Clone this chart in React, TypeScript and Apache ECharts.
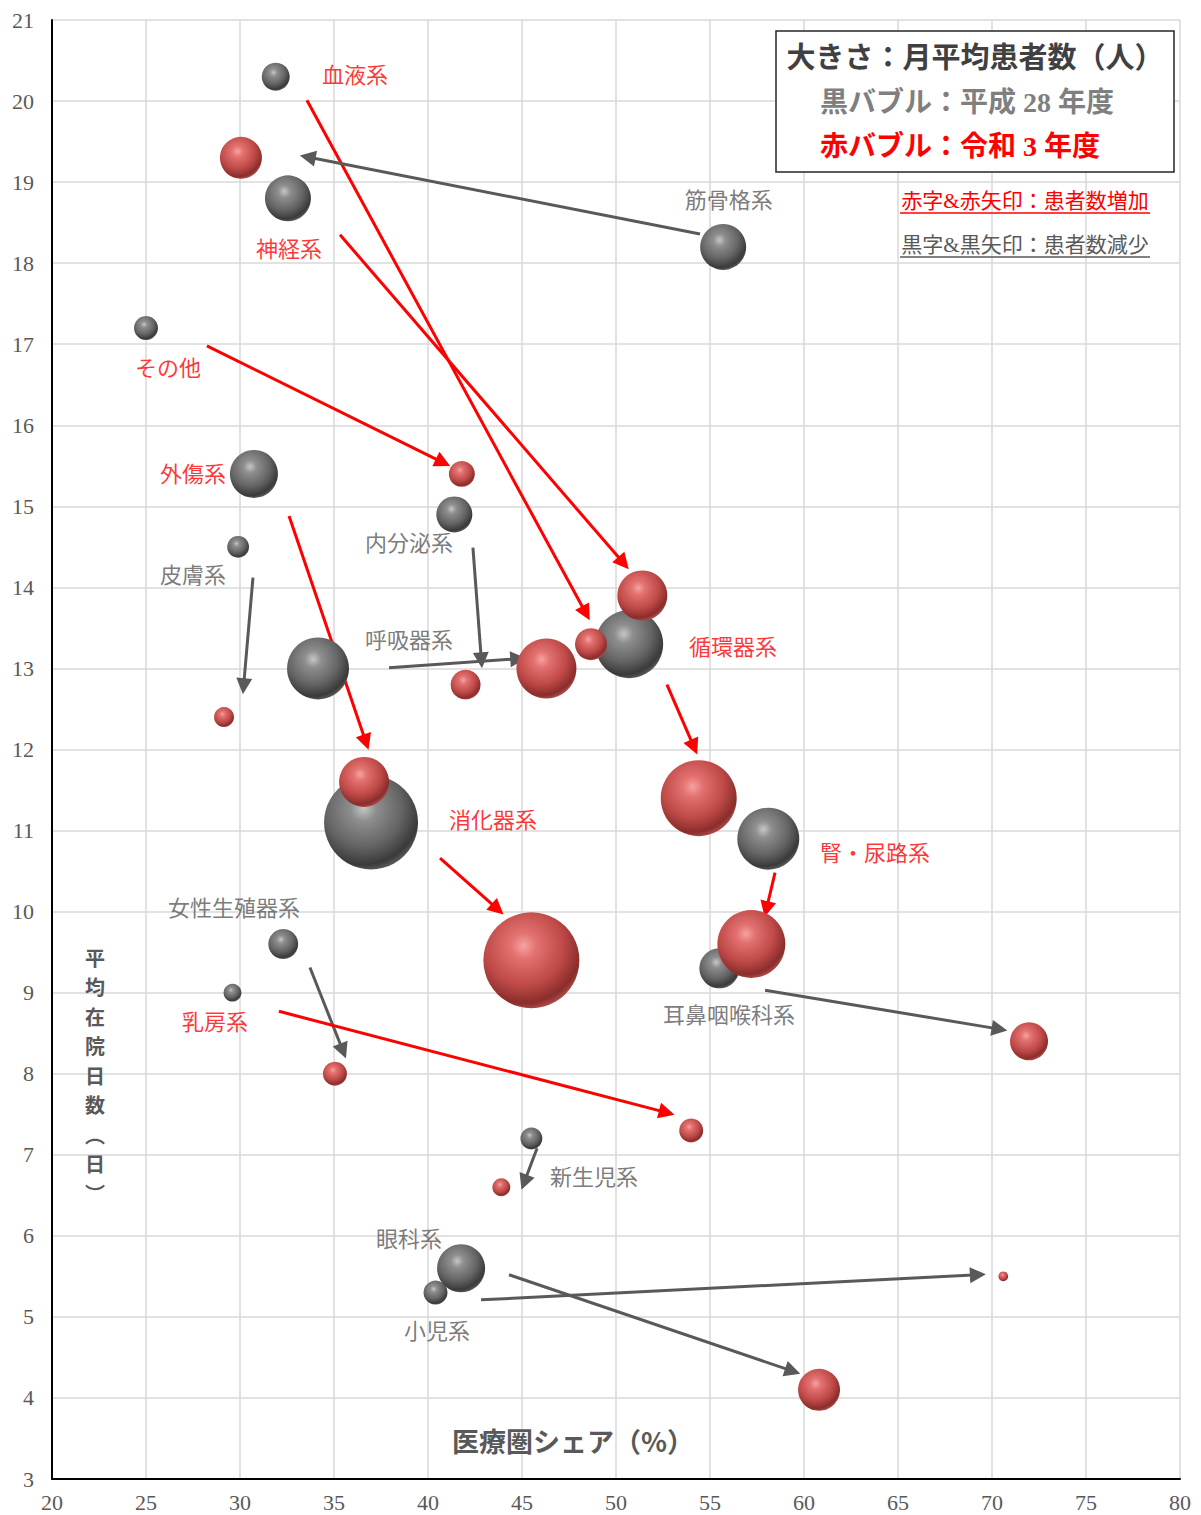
import React, { useEffect, useRef } from "react";
import * as echarts from "echarts";

// ---- data ----
const categories = ["血液系", "神経系", "筋骨格系", "その他", "外傷系", "内分泌系", "皮膚系", "呼吸器系", "循環器系", "消化器系", "腎・尿路系", "女性生殖器系", "乳房系", "耳鼻咽喉科系", "新生児系", "眼科系", "小児系"];
// 平成28年度 (gray bubbles)
const h28Share = [31.9, 32.55, 55.7, 25.0, 30.74, 41.4, 29.9, 34.15, 50.7, 36.97, 58.1, 32.3, 29.6, 55.5, 45.5, 41.76, 40.4];
const h28Days = [20.3, 18.8, 18.2, 17.2, 15.4, 14.9, 14.5, 13.0, 13.3, 11.1, 10.9, 9.6, 9.0, 9.3, 7.2, 5.6, 5.3];
const h28Patients = [49, 132, 132, 36, 144, 81, 30, 240, 289, 552, 240, 56, 20, 100, 30, 144, 36];
// 令和3年度 (red bubbles)
const r3Share = [48.67, 51.4, 30.05, 41.8, 36.6, 42.0, 29.15, 46.3, 54.4, 45.5, 57.2, 35.05, 54.0, 71.97, 43.9, 60.8, 70.6];
const r3Days = [13.3, 13.9, 19.3, 15.4, 11.6, 12.8, 12.4, 13.0, 11.4, 9.4, 9.6, 8.0, 7.3, 8.4, 6.6, 4.1, 5.5];
const r3Patients = [64, 156, 110, 42, 156, 56, 25, 225, 361, 576, 289, 36, 36, 90, 20, 110, 6];
// annotation arrows (data coords)
const arrowFrom = [[33.56, 20.01], [35.32, 18.35], [54.47, 18.36], [28.24, 16.98], [32.61, 14.88], [42.39, 14.49], [30.69, 14.12], [37.93, 13.01], [52.71, 12.8], [40.64, 10.66], [58.46, 10.48], [33.72, 9.31], [32.07, 8.77], [57.93, 9.03], [45.8, 7.08], [44.31, 5.52], [42.82, 5.21]];
const arrowTo = [[48.4, 13.68], [50.4, 14.3], [33.6, 19.31], [40.8, 15.54], [36.7, 12.09], [42.84, 13.1], [30.19, 12.78], [44.8, 13.12], [54.15, 12.03], [43.7, 10.03], [58.0, 10.03], [35.48, 8.28], [52.7, 7.52], [70.4, 8.55], [45.12, 6.66], [59.4, 4.33], [69.25, 5.52]];
// label anchor points (data coords)
const labelPos = [[36.12, 20.35], [32.61, 18.2], [56.0, 18.8], [26.17, 16.73], [27.5, 15.42], [38.99, 14.57], [27.5, 14.18], [38.99, 13.38], [56.22, 13.29], [43.46, 11.16], [63.78, 10.75], [29.68, 10.07], [28.67, 8.66], [56.01, 8.75], [48.83, 6.75], [38.99, 5.99], [40.48, 4.85]];

const xTicks = { min: 20, max: 80, interval: 5 };
const yTicks = { min: 3, max: 21, interval: 1 };
const yTitleChars = ["平", "均", "在", "院", "日", "数", "︵", "日", "︶"];

const RED = "#ff0000";
const GRAY = "#595959";
const FONT = '"Liberation Serif", "Noto Sans CJK JP", serif';
const CJK = '"Noto Sans CJK JP", sans-serif';

const sizeOf = (p: number) => Math.sqrt(p) * 4;

export default function App() {
  const ref = useRef<HTMLDivElement>(null);
  useEffect(() => {
    document.body.style.margin = "0";
    const chart = echarts.init(ref.current!, undefined, { renderer: "svg" });
    const increased = categories.map((_, i) => r3Patients[i] > h28Patients[i]);

    const redGrad = {
      type: "radial", x: 0.42, y: 0.35, r: 0.68,
      colorStops: [
        { offset: 0, color: "#f6a3a2" },
        { offset: 0.2, color: "#e2716f" },
        { offset: 0.6, color: "#bf4a48" },
        { offset: 0.88, color: "#8a2d2b" },
        { offset: 1, color: "#b25250" },
      ],
    };
    const grayGrad = {
      type: "radial", x: 0.42, y: 0.35, r: 0.68,
      colorStops: [
        { offset: 0, color: "#c6c6c6" },
        { offset: 0.2, color: "#8e8e8e" },
        { offset: 0.6, color: "#646464" },
        { offset: 0.88, color: "#3a3a3a" },
        { offset: 1, color: "#606060" },
      ],
    };

    const pitch = 29.5;
    const yTitle = yTitleChars.map((ch, i) => ({
      type: "text", z: 10, x: 95, y: 1075 + (i - 4) * pitch,
      style: { text: ch, fill: GRAY, font: `bold 20px ${CJK}`, align: "center", verticalAlign: "middle" },
    }));

    const option: any = {
      animation: false,
      grid: { left: 52, right: 21, top: 20, bottom: 36, containLabel: false },
      xAxis: {
        type: "value", min: xTicks.min, max: xTicks.max, interval: xTicks.interval,
        axisLine: { show: true, lineStyle: { color: "#000", width: 2 } },
        axisTick: { show: false },
        axisLabel: { color: GRAY, fontFamily: FONT, fontSize: 22, margin: 12 },
        splitLine: { show: true, lineStyle: { color: "#d9d9d9", width: 1.5 } },
      },
      yAxis: {
        type: "value", min: yTicks.min, max: yTicks.max, interval: yTicks.interval,
        axisLine: { show: true, lineStyle: { color: "#000", width: 2 } },
        axisTick: { show: false },
        axisLabel: { color: GRAY, fontFamily: FONT, fontSize: 22, margin: 18 },
        splitLine: { show: true, lineStyle: { color: "#d9d9d9", width: 1.5 } },
      },
      series: [
        {
          type: "lines", coordinateSystem: "cartesian2d", silent: true, z: 3,
          symbol: ["none", "triangle"], symbolSize: [0, 16],
          data: categories.map((c, i) => ({
            name: c,
            coords: [arrowFrom[i], arrowTo[i]],
            lineStyle: { color: increased[i] ? RED : GRAY, width: 3, opacity: 1 },
          })),
        },
        {
          type: "scatter", name: "平成28年度", silent: true, z: 4,
          data: categories.map((c, i) => [h28Share[i], h28Days[i], h28Patients[i], c]),
          symbolSize: (v: any) => sizeOf(v[2]),
          itemStyle: { color: grayGrad, opacity: 1 },
        },
        {
          type: "scatter", name: "令和3年度", silent: true, z: 5,
          data: categories.map((c, i) => [r3Share[i], r3Days[i], r3Patients[i], c]),
          symbolSize: (v: any) => sizeOf(v[2]),
          itemStyle: { color: redGrad, opacity: 1 },
        },
        {
          type: "scatter", name: "labels", silent: true, z: 6,
          symbolSize: 1,
          itemStyle: { color: "rgba(0,0,0,0)" },
          data: categories.map((c, i) => ({
            value: [labelPos[i][0], labelPos[i][1]],
            name: c,
            label: {
              show: true, position: "inside", formatter: c,
              color: increased[i] ? RED : GRAY,
              fontFamily: CJK, fontSize: 22,
            },
          })),
        },
      ],
      graphic: [
        {
          type: "text", left: 452, top: 1427, z: 10,
          style: { text: "医療圏シェア（%）", fill: GRAY, font: `bold 27px ${CJK}` },
        },
        ...yTitle,
        {
          type: "rect", z: 10,
          shape: { x: 776, y: 31, width: 398, height: 141 },
          style: { fill: "#fff", stroke: "#262626", lineWidth: 1.5 },
        },
        {
          type: "text", z: 11, x: 975, y: 58,
          style: { text: "大きさ：月平均患者数（人）", fill: "#404040", font: `bold 29px ${FONT}`, align: "center", verticalAlign: "middle" },
        },
        {
          type: "text", z: 11, x: 967, y: 102,
          style: { text: "黒バブル：平成 28 年度", fill: "#7f7f7f", font: `bold 28px ${FONT}`, align: "center", verticalAlign: "middle" },
        },
        {
          type: "text", z: 11, x: 960, y: 146,
          style: { text: "赤バブル：令和 3 年度", fill: RED, font: `bold 28px ${FONT}`, align: "center", verticalAlign: "middle" },
        },
        {
          type: "text", z: 11, x: 1025, y: 201,
          style: { text: "赤字&赤矢印：患者数増加", fill: RED, font: `21px ${FONT}`, align: "center", verticalAlign: "middle" },
        },
        {
          type: "line", z: 11, shape: { x1: 900, y1: 213, x2: 1150, y2: 213 },
          style: { stroke: RED, lineWidth: 1.5 },
        },
        {
          type: "text", z: 11, x: 1025, y: 245,
          style: { text: "黒字&黒矢印：患者数減少", fill: GRAY, font: `21px ${FONT}`, align: "center", verticalAlign: "middle" },
        },
        {
          type: "line", z: 11, shape: { x1: 900, y1: 257, x2: 1150, y2: 257 },
          style: { stroke: GRAY, lineWidth: 1.5 },
        },
      ],
    };
    chart.setOption(option);
    return () => chart.dispose();
  }, []);
  return <div ref={ref} style={{ width: 1201, height: 1515 }} />;
}
